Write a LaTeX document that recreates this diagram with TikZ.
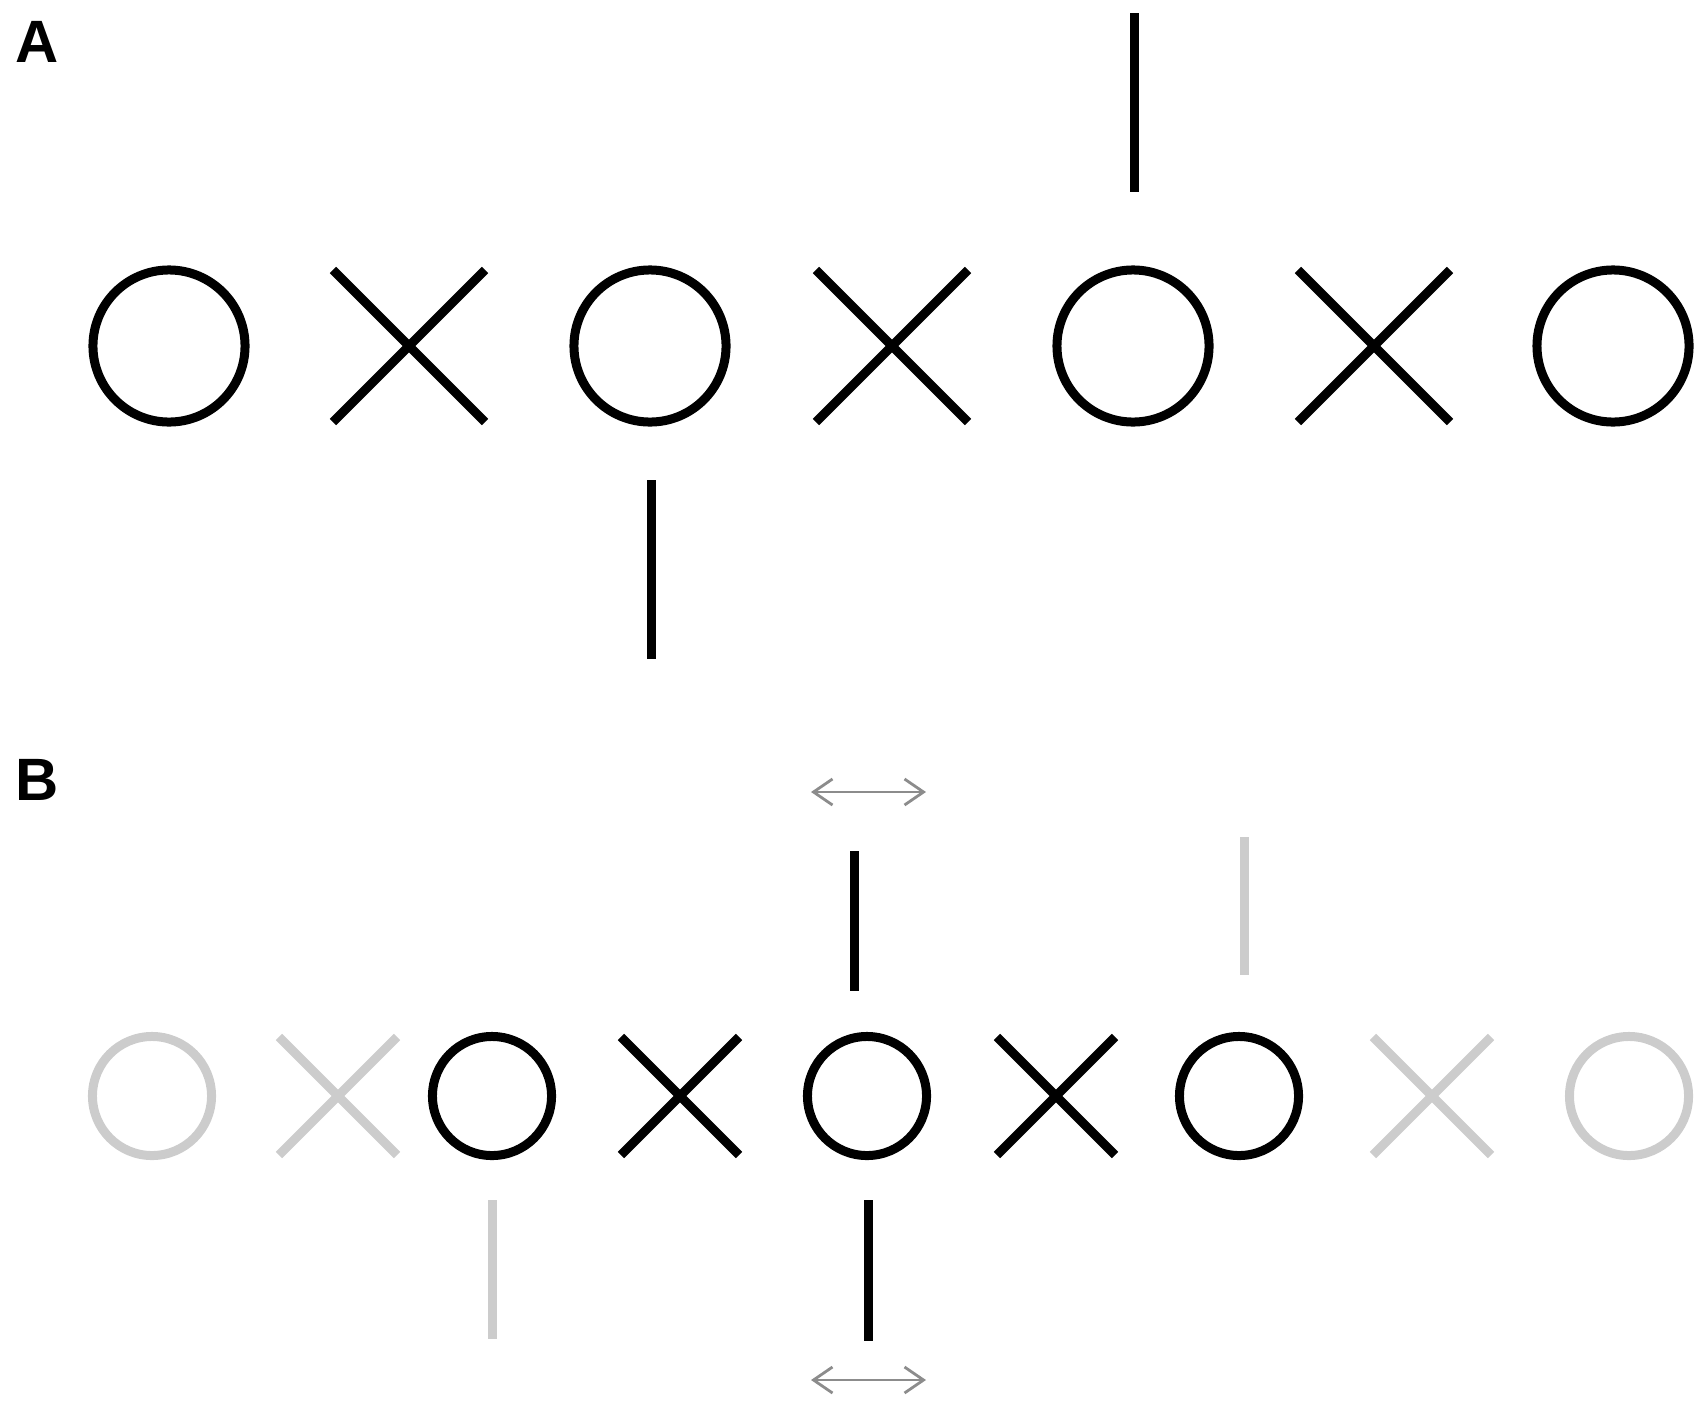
\documentclass[tikz,border=0pt]{standalone}
\usepackage{fontspec}
\setmainfont{Liberation Sans}
\usetikzlibrary{shapes.misc,arrows.meta}
\definecolor{faint}{gray}{0.80}
\definecolor{shiftgray}{gray}{0.55}
\tikzset{
  ring/.style={circle,draw,line width=0.09cm,inner sep=0pt,outer sep=0pt},
  xmark/.style={cross out,draw,line width=0.09cm,inner sep=0pt,outer sep=0pt},
  cue/.style={line width=0.09cm},
  shiftarrow/.style={shiftgray,line width=0.028cm,
    {Straight Barb[length=0.19cm,width=0.26cm]}-{Straight Barb[length=0.19cm,width=0.26cm]}},
  panel/.style={font=\fontsize{17}{20}\selectfont\bfseries,inner sep=0pt,anchor=base}
}
\begin{document}
\begin{tikzpicture}[x=0.01cm,y=-0.01cm]
  \useasboundingbox (0,0) rectangle (1700,1406);
  % panel A
  \node[panel] (labA) at (37,62) {A};
  \foreach \x [count=\i] in {169,650,1133,1613}
    \node[ring,minimum size=1.52cm] (aO\i) at (\x,346) {};
  \foreach \x [count=\i] in {409,892,1374}
    \node[xmark,minimum size=1.52cm] (aX\i) at (\x,346) {};
  % vertical cues
  \draw[cue] (1134,13) -- (1134,192);
  \draw[cue] (651,480) -- (651,659);
  % panel B
  \node[panel] (labB) at (37,800) {B};
  \foreach \x [count=\i] in {492,867,1239}
    \node[ring,minimum size=1.19cm] (bO\i) at (\x,1096) {};
  \foreach \x [count=\i] in {680,1056}
    \node[xmark,minimum size=1.18cm] (bX\i) at (\x,1096) {};
  % faded outer symbols
  \foreach \x [count=\i] in {152,1629}
    \node[ring,faint,minimum size=1.19cm] (fO\i) at (\x,1096) {};
  \foreach \x [count=\i] in {338,1432}
    \node[xmark,faint,minimum size=1.18cm] (fX\i) at (\x,1096) {};
  % cues above and below
  \draw[cue] (854,851) -- (854,991);
  \draw[cue,faint] (1244,837) -- (1244,975);
  \draw[cue,faint] (492,1200) -- (492,1339);
  \draw[cue] (868,1200) -- (868,1341);
  % shift arrows
  \draw[shiftarrow] (811,792) -- (926,792);
  \draw[shiftarrow] (811,1380) -- (926,1380);
\end{tikzpicture}
\end{document}
